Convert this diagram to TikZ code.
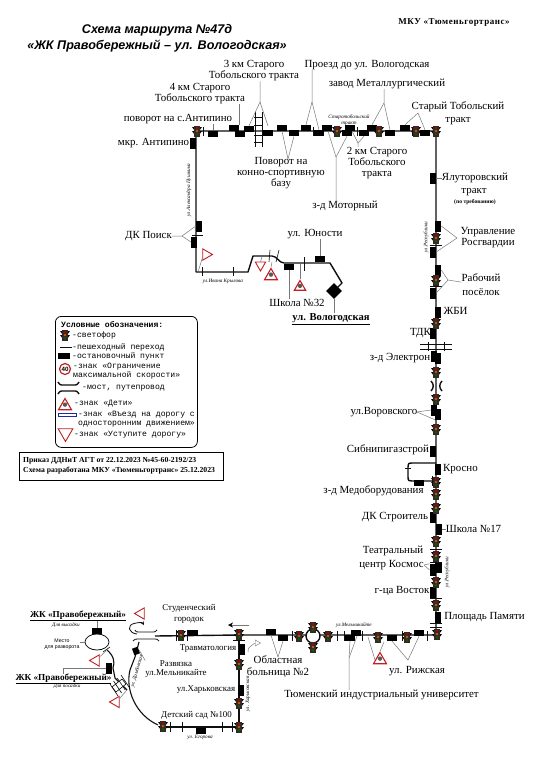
\documentclass[tikz,border=0pt]{standalone}
\usepackage{fontspec}
\setmainfont{Liberation Serif}
\setmonofont{Liberation Mono}
\newfontfamily\headfont{Liberation Sans}
\usepackage{tikz}
\usetikzlibrary{arrows.meta,positioning,calc,shapes.geometric}
\definecolor{roadblack}{RGB}{15,15,15}
\definecolor{leadgrey}{RGB}{120,120,120}
\definecolor{signred}{RGB}{195,30,35}
\definecolor{signblue}{RGB}{30,40,170}
\definecolor{lampbrown}{RGB}{55,40,38}
\tikzset{
  base/.style={font=\fontsize{10.9}{10.9}\selectfont, align=center, inner sep=0pt, text=black},
  basemid/.style={base, font=\fontsize{8.9}{10.8}\selectfont},
  basebold/.style={base, font=\fontsize{9.2}{10}\selectfont\bfseries},
  street/.style={base, font=\fontsize{5.2}{6}\selectfont\itshape},
  keytext/.style={base, anchor=west, align=left, font=\fontsize{8.1}{8.9}\selectfont\ttfamily},
  road/.style={draw=roadblack, line width=1.4pt, line join=round},
  roadthin/.style={draw=roadblack, line width=0.8pt},
  lead/.style={draw=leadgrey, line width=0.5pt},
  tick/.style={draw=roadblack, line width=0.6pt},
  stoph/.style={rectangle, fill=black, inner sep=0pt, minimum width=10pt, minimum height=6pt},
  stopv/.style={rectangle, fill=black, inner sep=0pt, minimum width=6pt, minimum height=11pt},
  lamp/.style={rectangle, inner sep=0pt, minimum width=10pt, minimum height=11pt, path picture={
    \begin{scope}[shift={(path picture bounding box.center)}]
      \fill[lampbrown] (-3.2,-5.5) rectangle (3.2,5.5);
      \fill[black] (-5,-4) -- (-3.2,-4) -- (-3.2,-1.5) -- cycle (5,-4) -- (3.2,-4) -- (3.2,-1.5) -- cycle;
      \fill[black] (-5,0) -- (-3.2,0) -- (-3.2,2.5) -- cycle (5,0) -- (3.2,0) -- (3.2,2.5) -- cycle;
      \fill[red!70!black] (0,-3.2) circle (1.3);
      \fill[orange!75!black] (0,0) circle (1.3);
      \fill[green!40!black] (0,3.2) circle (1.3);
    \end{scope}}},
  yieldsign/.style={regular polygon, regular polygon sides=3, shape border rotate=#1, draw=signred, fill=white, line width=0.9pt, inner sep=0pt, minimum size=13pt},
  kidsign/.style={regular polygon, regular polygon sides=3, draw=signred, fill=white, line width=1.1pt, inner sep=0pt, minimum size=15pt, path picture={
    \fill[black!65] ($(path picture bounding box.center)+(0,0.5)$) circle (2.2);}},
  plate/.style={rectangle, draw=black, fill=white, line width=0.8pt},
}
\begin{document}
\begin{tikzpicture}[x=1pt,y=-1pt]
  \useasboundingbox (0,0) rectangle (537,760);
  \fill[white] (0,0) rectangle (537,760);
  \node[base,font=\fontsize{12.6}{16}\selectfont\headfont\bfseries\itshape] (title) at (157,38) {Схема маршрута №47д\\«ЖК Правобережный – ул. Вологодская»};
  \node[basebold,font=\fontsize{9}{10}\selectfont\bfseries\addfontfeature{LetterSpace=6}] (owner) at (454,23) {МКУ «Тюменьгортранс»};

  % main road
  \coordinate (ctopl) at (196,131);
  \coordinate (ctopr) at (436,131);
  \coordinate (cbotr) at (436,635);
  \coordinate (cbotl) at (155,636);
  \draw[road] (cbotl) -- (239,635) -- (cbotr) -- (ctopr) -- (ctopl) -- (196,272) -- (248,272) -- (253,256) -- (272,256) .. controls (277,256) and (279,263) .. (284,263) -- (330,263) -- (342,283) -- (334,291);
  \draw[road] (239,635) -- (239,727) -- (163,727);
  \draw[road] (436,463) -- (412,463) .. controls (408,463) and (408,464) .. (408,467) -- (408,477) .. controls (408,481) and (409,481) .. (412,481) -- (436,481);
  \draw[road,fill=white] (313,636) circle (7);

  % south west loop
  \draw[roadthin] (97,642) ellipse (12 and 8);
  \draw[road,line width=1.1pt] (107,650) .. controls (114,656) and (115,662) .. (113,668) -- (115,678) -- (127,690);
  \draw[road,line width=1.1pt] (139,642) -- (135,657) -- (130,670) .. controls (125,690) and (136,715) .. (158,725);
  \draw[roadthin] (133,641) .. controls (135,639) .. (138,639) -- (155,639) .. controls (157,639) .. (159,641);
  \draw[roadthin] (135,630) .. controls (136,632) .. (139,632) -- (153,632) .. controls (155,632) .. (157,630);
  \draw[roadthin,-{Stealth[length=3.5pt,width=3.5pt]}] (137,634) .. controls (128,633) and (127,625) .. (134,623.5) .. controls (138,622.5) and (142,622) .. (144,625);
  \draw[tick,fill=white] (112,687) -- (122,679) -- (126,684) -- (116,692) -- cycle;
  \foreach \t in {0,0.33,0.66,1} \draw[tick] ($(110,684)!\t!(121,675)$) -- ($(118,696)!\t!(129,687)$);
  \draw[tick] (103,652) -- (110,647);

  % stops
  \foreach \n/\x/\y in {antip/213/133.5,km4a/234/128,km4b/240/134,km3a/249/129,povb/268/133,pova/282/128,povc/294/133,proa/306/128,prob/319/133,mota/327/128,motb/347/133,kmb/350/128,kma/364/133,meta/372/128,metb/390/133,stara/405/128,starb/425/133,yun/320/259,sh32/289/267,krasn/419/483,hosp/271/632,hospb/283/638,univa/350/638,univb/356/633,riga/392/638,rigb/419/633,stud/193/633,sad/201/731,jka/97/631}
    \node[stoph] (\n) at (\x,\y) {};
  \foreach \n/\x/\y in {mkr/193/143,poia/199/226,poib/194/242,yal/433/178,rosa/438/226,rosb/433/252,rab/438/270,rabb/433/293,zhb/438/312,tdk/433/333,ela/434/356,elb/438/358,vora/434/410,vorb/438/414,sib/433/451,kro/438/469,dks/433/517,sh17/439/529,gvo/433/592,pam/438/617,trav/242/649,hark/241/690,jkb/109/668}
    \node[stopv] (\n) at (\x,\y) {};
  \node[stopv,minimum width=6.5pt,minimum height=12pt] (kosa) at (433,570) {};
  \node[stopv,minimum width=6.5pt,minimum height=10pt] (kosb) at (438.5,568) {};
  \node[stopv,rotate=20,minimum height=7pt] (razv) at (136,651) {};
  \node[diamond,fill=black,inner sep=0pt,minimum size=16pt] (endst) at (334,291) {};

  % lights
  \foreach \n/\x/\y in {l1/197/131,l2/337/131,l3/379/131,l4/416/131,l5/436/131,l6/436/238,l7/436/280,l8/436/323,l9/436/372,l10/436/399,l11/436/429,l12/436/482,l13/436/494,l14/436/508,l15/436/541,l16/436/556,l17/436/582,l18/436/605,l19/437/634,l20/407/637,l21/378/637,l22/328/636,l23/313/627,l24/313/647,l25/299/636,l26/239/634,l27/181/635,l28/239/664,l29/239/703,l30/239/727,l31/163/726}
    \node[lamp] (\n) at (\x,\y) {};

  % pedestrian crossings
  \foreach \x in {203,313,357,412}
    \draw[tick] (\x,127) -- (\x,136);
  \foreach \x in {233,202}
    \draw[tick] (\x,267) -- (\x,276);
  \draw[tick] (304,257) -- (304,271);
  \draw[tick] (270,250) -- (269,262) (279,250) -- (276,262);
  \draw[tick] (192,235) -- (203,235);
  \foreach \y in {245,286,549,562,598,623,627}
    \draw[tick] (430,\y) -- (442,\y);
  \draw[tick] (405,468) -- (411,468);
  \draw[tick] (432,476) -- (432,486);
  \foreach \x in {292,337,344,362,402,427}
    \draw[tick] (\x,631) -- (\x,641);
  \foreach \x in {176,187}
    \draw[tick] (\x,630) -- (\x,641);
  \foreach \x in {170,182,222,232}
    \draw[tick] (\x,722) -- (\x,732);
  \draw[tick] (233,640) -- (245,640);

  % rail and bridge crossings
  \draw[roadthin] (255,112) -- (255,147) (262,112) -- (262,147);
  \foreach \y in {117,125,135,142}
    \draw[roadthin] (254,\y) -- (263,\y);
  \draw[roadthin] (420,344) -- (452,344) (420,349) -- (452,349);
  \foreach \x in {428,444}
    \draw[roadthin] (\x,342) -- (\x,351);
  \draw[road] (431,381) .. controls (434,384) and (434,388) .. (431,391);
  \draw[road] (442,381) .. controls (439,384) and (439,388) .. (442,391);

  % signs
  \node[yieldsign=-90] (yld1) at (206,254.5) {};
  \node[yieldsign=180,minimum size=12pt] (yld2) at (260.5,265) {};
  \node[yieldsign=90] (yld3) at (96,660.5) {};
  \node[yieldsign=90] (yld4) at (116,702) {};
  \node[yieldsign=90] (yld5) at (141,613.5) {};
  \node[kidsign] (kid1) at (271,276) {};
  \node[kidsign,minimum size=13pt] (kid2) at (300,287) {};
  \node[kidsign] (kid3) at (380,660) {};
  \coordinate (backa) at (248,652);
  \node[regular polygon,regular polygon sides=3,shape border rotate=-90,draw=leadgrey,inner sep=0pt,minimum size=7pt,line width=0.4pt] (yldback) at (257,643) {};
  \draw[lead] (backa) .. controls (248,648) .. (yldback.west);
  \coordinate (arrowa) at (249,625);
  \coordinate (arrowb) at (228,625);
  \draw[lead,-{Stealth[length=5pt,width=5pt,color=black]}] (arrowa) -- (arrowb);
  \draw[lead] (yld1.south west) -- (198,272);
  \draw[lead] (yld3.north east) -- (106,651);
  \draw[lead] (yld4.north east) -- (127,690);
  \draw[lead] (yld2.north) -- (262,257);
  \draw[lead] (kid1.north) -- (272,262);
  \draw[lead] (kid2.north) -- (300,264);

  % stop labels
  \node[base] (t3km) at (254,71) {3 км Старого\\Тобольского тракта};
  \node[base] (t4km) at (200,94) {4 км Старого\\Тобольского тракта};
  \node[base] (tanti) at (178,119) {поворот на с.Антипино};
  \node[base] (tmkr) at (153.5,143) {мкр. Антипино};
  \node[base] (tpoi) at (148.5,236) {ДК Поиск};
  \node[base] (tpro) at (367,65) {Проезд до ул. Вологодская};
  \node[base] (tmet) at (387,84) {завод Металлургический};
  \node[base] (tsta) at (458,107) {Старый Тобольский};
  \node[base] (tstb) at (458,121) {тракт};
  \node[base] (t2km) at (377,163) {2 км Старого\\Тобольского\\тракта};
  \node[base] (tpov) at (281,173) {Поворот на\\конно-спортивную\\базу};
  \node[base] (tmot) at (345,206) {з-д Моторный};
  \node[base] (tyal) at (475,178) {Ялуторовский};
  \node[base] (tyalb) at (474,192) {тракт};
  \node[base,font=\fontsize{5.6}{6}\selectfont\bfseries] (tyalc) at (475,202) {(по требованию)};
  \node[base] (tros) at (488,238) {Управление\\Росгвардии};
  \node[base] (trab) at (481,278) {Рабочий};
  \node[base] (traba) at (481,292) {посёлок};
  \node[base] (tyun) at (315,234) {ул. Юности};
  \node[base] (tsh32) at (297,303) {Школа №32};
  \node[base,font=\fontsize{10.6}{11}\selectfont\bfseries] (tvol) at (331,319) {\underline{ул. Вологодская}};
  \node[base] (tzhb) at (455.5,311) {ЖБИ};
  \node[base] (ttdk) at (420.5,333) {ТДК};
  \node[base] (tele) at (400,358) {з-д Электрон};
  \node[base] (tvor) at (384,412) {ул.Воровского};
  \node[base] (tsib) at (388,450) {Сибнипигазстрой};
  \node[base] (tkro) at (460.5,469) {Кросно};
  \node[base] (tmed) at (373.5,491) {з-д Медоборудования};
  \node[base] (tdks) at (395,517) {ДК Строитель};
  \node[base] (tsh17) at (473.5,529) {Школа №17};
  \node[base] (ttea) at (393,551) {Театральный};
  \node[base] (tkos) at (391.5,565) {центр Космос};
  \node[base] (tgvo) at (402,591) {г-ца Восток};
  \node[base] (tpam) at (484.5,617) {Площадь Памяти};
  \node[base] (thos) at (278,666.5) {Областная\\[1.8pt]больница №2};
  \node[base] (trig) at (417,671) {ул. Рижская};
  \node[base] (tuni) at (381.5,695) {Тюменский индустриальный университет};
  \node[basemid] (tstu) at (189,613.5) {Студенческий\\городок};
  \node[basemid] (ttra) at (208,649) {Травматология};
  \node[basemid] (thar) at (206,690) {ул.Харьковская};
  \node[basemid] (tsad) at (196.5,715) {Детский сад №100};
  \node[basemid,font=\fontsize{8.9}{9}\selectfont] (trav) at (176,669) {Развязка\\ул.Мельникайте};
  \node[basebold] (tjka) at (78,616) {\underline{ЖК «Правобережный»}};
  \node[basebold] (tjkb) at (63.5,679) {\underline{ЖК «Правобережный»}};
  \node[street] (tout) at (66,625) {Для высадки};
  \node[street] (tin) at (67,686) {Для посадки};
  \node[base,font=\fontsize{5.2}{5.8}\selectfont\headfont] (tturn) at (62,644) {Место\\для разворота};

  % street names
  \node[street,rotate=90] (spus) at (189,190) {ул.Александра Пушкина};
  \node[street] (skry) at (223,281) {ул.Ивана Крылова};
  \node[street] (ssta) at (349,120) {Старотобольский\\тракт};
  \node[street,rotate=90] (sres) at (426,237) {ул.Республики};
  \node[street,rotate=90] (sresb) at (447,572) {ул.Республики};
  \node[street] (smel) at (354,625) {ул.Мельникайте};
  \node[street,rotate=90] (shar) at (248,694) {ул. Харьковская};
  \node[street] (sego) at (200,737) {ул. Егорова};
  \node[street,rotate=74] (sdam) at (137,671) {ул. Дамбовская};

  % leaders
  \coordinate (a3km) at (260,102);
  \draw[lead] (t3km.south -| a3km) -- (a3km) -- (km3a.north);
  \draw[lead] (a3km) -- (268,126);
  \draw[lead] (t4km.south -| km4a.east) -- (km4a.north east);
  \draw[lead] (antip.north) -- (213,124);
  \coordinate (apoi) at (182,236);
  \draw[lead] (tpoi.east) -- (apoi) -- (poia.west);
  \draw[lead] (apoi) -- (poib.west);
  \coordinate (apro) at (312,102);
  \draw[lead] (tpro.south -| apro) -- (apro) -- (proa.north);
  \draw[lead] (apro) -- (prob.north);
  \coordinate (amet) at (384,103);
  \draw[lead] (tmet.south -| amet) -- (amet) -- (meta.north);
  \draw[lead] (amet) -- (metb.north);
  \coordinate (asta) at (418,113);
  \draw[lead] (asta) -- (stara.north);
  \draw[lead] (asta) -- (starb.north);
  \coordinate (a2km) at (358,143);
  \draw[lead] (t2km.north -| a2km) -- (a2km) -- (352,131);
  \draw[lead] (a2km) -- (kma.south);
  \coordinate (apov) at (288,159);
  \draw[lead] (apov) -- (pova.south);
  \draw[lead] (apov) -- (povc.south);
  \coordinate (amot) at (336,157);
  \draw[lead] (tmot.north -| amot) -- (amot) -- (328,131);
  \draw[lead] (amot) -- (motb.south);
  \draw[lead] (yal.east) -- (tyal.west);
  \coordinate (aros) at (457,238);
  \draw[lead] (aros) -- (rosa.east);
  \draw[lead] (aros) -- (rosb.east);
  \coordinate (arab) at (448,280);
  \draw[lead] (trab.south west) -- (arab) -- (rab.east);
  \draw[lead] (arab) -- (rabb.east);
  \draw[lead] (tyun.south -| yun) -- (yun.north);
  \draw[lead] (tsh32.north -| sh32) -- (sh32.south);
  \draw[lead] (endst.south) -- (tvol.north -| endst);
  \coordinate (avor) at (417,412);
  \draw[lead] (avor) -- (vora.west);
  \draw[lead] (avor) -- (vorb.south west);
  \draw[lead] (sh17.east) -- (tsh17.west);
  \coordinate (akos) at (424,565);
  \draw[lead] (akos) -- (kosa.north west);
  \draw[lead] (akos) -- (kosa.west);
  \coordinate (ahos) at (278,657);
  \draw[lead] (ahos) -- (hosp.south);
  \draw[lead] (ahos) -- (hospb.south);
  \coordinate (arig) at (408,660);
  \draw[lead] (arig) -- (riga.south);
  \draw[lead] (arig) -- (rigb.south);
  \coordinate (auni) at (349,658);
  \draw[lead] (tuni.north -| auni) -- (auni) -- (univa.south);
  \draw[lead] (auni) -- (357,636);
  \draw[lead] (kid3.west) -- (368,637);
  \draw[lead] (kid3.north) -- (384,642);
  \draw[lead] (jka.north) -- (tjka.south -| jka);
  \draw[lead] (tturn.east |- 97,642) -- (85,642);
  \coordinate (ajkb) at (63,668);
  \draw[lead] (jkb.west) -- (ajkb) -- (tjkb.north -| ajkb);
  \draw[lead] (razv.east) -- (trav.north west);

  % legend
  \node[plate,rounded corners=6pt,minimum width=142pt,minimum height=131pt,anchor=north west] (keybox) at (55,316) {};
  \node[keytext,font=\fontsize{8.1}{9}\selectfont\ttfamily\bfseries] (keyhead) at (61,325) {Условные обозначения:};
  \node[lamp] (keylamp) at (65,335) {};
  \node[keytext] (keya) at (72,335) {-светофор};
  \coordinate (keyla) at (60,347);
  \coordinate (keylb) at (72,347);
  \draw[tick] (keyla) -- (keylb);
  \node[keytext] (keyb) at (72,347) {-пешеходный переход};
  \node[stoph,minimum width=12pt,minimum height=6pt] (keystop) at (64,356) {};
  \node[keytext] (keyc) at (72,356) {-остановочный пункт};
  \node[circle,draw=signred,line width=1.2pt,fill=white,inner sep=0pt,minimum size=11pt,font=\fontsize{6.2}{7}\headfont\bfseries\selectfont] (keyspeed) at (65,369) {40};
  \node[keytext] (keyd) at (73,371.5) {-знак «Ограничение\\максимальной скорости»};
  \draw[road] (58,382) .. controls (60,385) .. (64,385) -- (73,385) .. controls (77,385) .. (79,382);
  \draw[road] (58,394) .. controls (60,391) .. (64,391) -- (73,391) .. controls (77,391) .. (79,394);
  \node[keytext] (keye) at (82,388) {-мост, путепровод};
  \node[kidsign,minimum size=15pt] (keykid) at (65,406) {};
  \node[keytext] (keyf) at (74,404) {-знак «Дети»};
  \node[rectangle,draw=signblue,line width=1pt,fill=white,inner sep=0pt,minimum width=18pt,minimum height=3.5pt] (keyone) at (67,415) {};
  \node[keytext] (keyg) at (78,419.5) {-знак «Въезд на дорогу с\\односторонним движением»};
  \node[yieldsign=180,minimum size=17pt] (keyyld) at (65.5,433) {};
  \node[keytext] (keyh) at (74,435) {-знак «Уступите дорогу»};

  % order note
  \node[plate,minimum width=204pt,minimum height=28pt,anchor=north west,line width=0.7pt] (note) at (19,452) {};
  \node[base,anchor=west,align=left,font=\fontsize{7.7}{10}\selectfont\bfseries] (notetext) at (23,466) {Приказ ДДНиТ АГТ от 22.12.2023 №45-60-2192/23\\Схема разработана МКУ «Тюменьгортранс» 25.12.2023};
\end{tikzpicture}
\end{document}
